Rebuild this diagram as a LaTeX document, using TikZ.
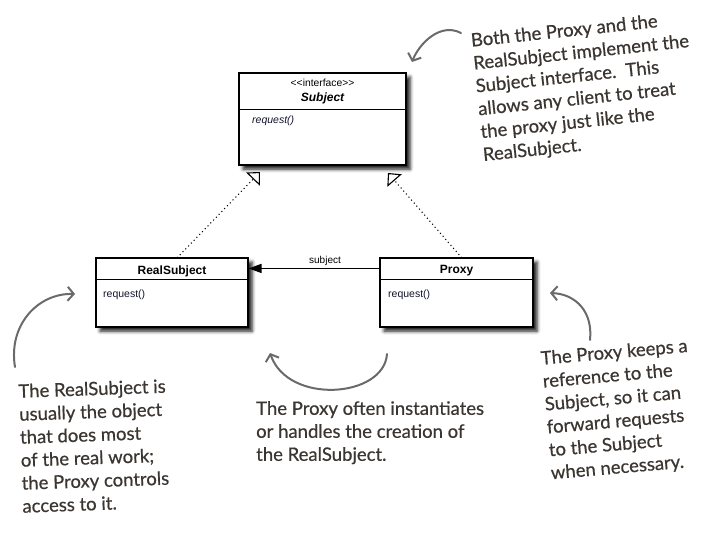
\documentclass[tikz,border=0pt]{standalone}
\usepackage{fontspec}
\setmainfont{Liberation Sans}
\newfontfamily\handfont[FakeBold=0.6]{Lato}
\usetikzlibrary{arrows.meta,shadows.blur,calc}
\definecolor{handtext}{HTML}{3B3631}
\definecolor{handarrow}{HTML}{6A6A6A}
\definecolor{umltext}{HTML}{14142E}
\begin{document}
\begin{tikzpicture}[x=1pt,y=-1pt,
  umlbox/.style={draw=black, line width=1.1pt, fill=white, rectangle, inner sep=0pt,
    blur shadow={shadow xshift=4pt, shadow yshift=-4pt, shadow blur radius=3.5pt, shadow opacity=90}},
  divider/.style={draw=black, line width=1pt},
  umltitle/.style={font=\bfseries\fontsize{12}{14}\selectfont, text=black, inner sep=0pt},
  umlop/.style={font=\fontsize{10.5}{12}\selectfont, text=umltext, inner sep=0pt, anchor=west},
  note/.style={font=\handfont\fontsize{18.5}{23}\selectfont, text=handtext, align=left, anchor=north west, inner sep=0pt},
  curvy/.style={draw=handarrow, line width=2pt, line cap=round, -{Straight Barb[length=6pt,width=14pt,line width=2pt]}},
  realize/.style={draw=black, line width=1.5pt, line cap=round, dash pattern=on 0pt off 4pt,
    -{Triangle[open,length=10pt,width=19pt,line width=1.1pt]}},
  assoc/.style={draw=black, line width=1.4pt, -{Triangle[length=13pt,width=9pt]}}
]
\useasboundingbox (0,0) rectangle (707,540);

% UML boxes
\node[umlbox, minimum width=167pt, minimum height=92pt] (subject) at (322.5,119) {};
\node[umlbox, minimum width=152pt, minimum height=69pt] (realsubject) at (172,292.5) {};
\node[umlbox, minimum width=153pt, minimum height=69pt] (proxy) at (456.5,292.5) {};

\draw[divider] ($(subject.north west)+(0,37)$) -- ($(subject.north east)+(0,37)$);
\draw[divider] ($(realsubject.north west)+(0,22)$) -- ($(realsubject.north east)+(0,22)$);
\draw[divider] ($(proxy.north west)+(0,22)$) -- ($(proxy.north east)+(0,22)$);

\node[font=\fontsize{10.3}{12}\selectfont, inner sep=0pt] (stereo) at (322.5,83) {<\kern0pt<interface>\kern0pt>};
\node[font=\bfseries\itshape\fontsize{12}{14}\selectfont, inner sep=0pt] (subjname) at (322.5,98.5) {Subject};
\node[umlop, font=\itshape\fontsize{10.5}{12}\selectfont] (subjop) at (252,121) {request()};

\node[umltitle] (rsname) at (172,271) {RealSubject};
\node[umlop] (rsop) at (103,295) {request()};

\node[umltitle] (pxname) at (456.5,271) {Proxy};
\node[umlop] (pxop) at (388,295) {request()};

% realization
\coordinate (t1) at (260,172);
\coordinate (t2) at (388,173);
\draw[realize] ($(realsubject.north west)+(82,0)$) -- (t1);
\draw[realize] ($(proxy.north west)+(82,0)$) -- (t2);

% association
\draw[assoc] ($(proxy.north west)+(0,11)$) -- ($(realsubject.north east)+(0,11)$);
\node[font=\fontsize{10}{12}\selectfont, inner sep=0pt] (assoclabel) at (325,261) {subject};

% notes
\node[note, rotate=6] (n1) at (470,33) {Both the Proxy and the\\RealSubject implement the\\Subject interface.\ \ This\\allows any client to treat\\the proxy just like the\\RealSubject.};
\node[note, rotate=2] (n2) at (18,384) {The RealSubject is\\usually the object\\that does most\\of the real work;\\the Proxy controls\\access to it.};
\node[note] (n3) at (256,401) {The Proxy often instantiates\\or handles the creation of\\the RealSubject.};
\node[note, rotate=5] (n4) at (540,351) {The Proxy keeps a\\reference to the\\Subject, so it can\\forward requests\\to the Subject\\when necessary.};

% curved arrows
\coordinate (a1s) at (461,33);
\coordinate (a1e) at (412,62);
\draw[curvy] (a1s) .. controls (440,22) and (419,44) .. (a1e);
\coordinate (a2s) at (15,367);
\coordinate (a2e) at (75,294);
\draw[curvy] (a2s) .. controls (8,325) and (38,293) .. (a2e);
\coordinate (a3s) at (387,354);
\coordinate (a3e) at (270,353);
\draw[curvy] (a3s) .. controls (384,398) and (288,405) .. (a3e);
\coordinate (a4s) at (590,340);
\coordinate (a4e) at (550,293);
\draw[curvy] (a4s) .. controls (593,312) and (576,294) .. (a4e);
\end{tikzpicture}
\end{document}
